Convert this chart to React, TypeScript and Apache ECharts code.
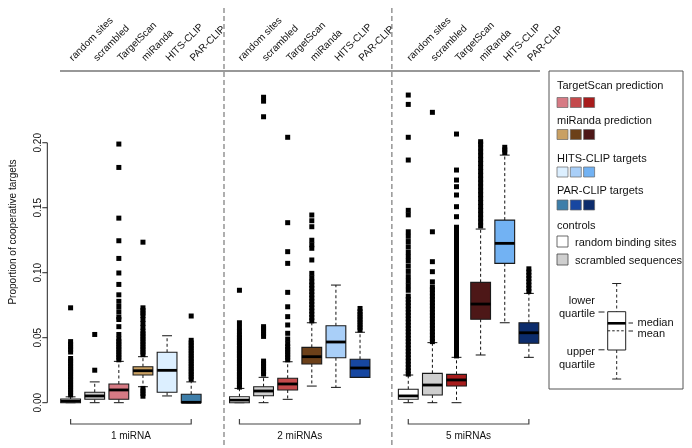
import React, { useEffect, useRef } from 'react';
import * as echarts from 'echarts';

// ---------- data ----------
const SOURCES = ['random sites', 'scrambled', 'TargetScan', 'miRanda', 'HITS-CLIP', 'PAR-CLIP'];
const GROUPS = ['1 miRNA', '2 miRNAs', '5 miRNAs'];
const Y_TICKS = [0, 0.05, 0.1, 0.15, 0.2];
const Y_TITLE = 'Proportion of cooperative targets';

// [lower whisker, Q1, median, Q3, upper whisker]
const BOX_1 = [
  [0, 0, 0.0012, 0.0028, 0.0045],
  [0, 0.0026, 0.0052, 0.008, 0.016],
  [0, 0.0026, 0.0098, 0.0144, 0.0318],
  [0.0123, 0.0213, 0.0246, 0.0277, 0.0354],
  [0.0052, 0.008, 0.0249, 0.0388, 0.0515],
  [0, 0, 0.0003, 0.0065, 0.016],
];
const BOX_2 = [
  [0, 0, 0.002, 0.0046, 0.011],
  [0, 0.0054, 0.009, 0.0123, 0.0195],
  [0.0026, 0.0098, 0.0144, 0.0188, 0.0315],
  [0.0128, 0.0298, 0.0354, 0.0426, 0.0615],
  [0.0118, 0.0346, 0.0467, 0.0592, 0.0905],
  [0.0195, 0.0195, 0.0267, 0.0334, 0.0542],
];
const BOX_5 = [
  [0, 0.0026, 0.0052, 0.0103, 0.0213],
  [0, 0.0059, 0.0136, 0.0226, 0.0462],
  [0, 0.0128, 0.0175, 0.0218, 0.0349],
  [0.0367, 0.0642, 0.0759, 0.0926, 0.1336],
  [0.0615, 0.1072, 0.1226, 0.1405, 0.1905],
  [0.0349, 0.0457, 0.0538, 0.0615, 0.0841],
];

const OUT_1 = [
  [0.006, 0.008, 0.01, 0.012, 0.014, 0.016, 0.018, 0.02, 0.022, 0.024, 0.026, 0.028, 0.03, 0.032, 0.034, 0.039, 0.041, 0.043, 0.045, 0.047, 0.073],
  [0.025, 0.0525],
  [0.033, 0.035, 0.037, 0.039, 0.041, 0.043, 0.045, 0.047, 0.049, 0.0525, 0.0585, 0.064, 0.066, 0.07, 0.074, 0.078, 0.083, 0.091, 0.0998, 0.111, 0.1246, 0.142, 0.181, 0.199],
  [0.005, 0.007, 0.009, 0.011, 0.037, 0.039, 0.041, 0.043, 0.045, 0.047, 0.049, 0.051, 0.053, 0.055, 0.058, 0.061, 0.064, 0.067, 0.069, 0.071, 0.073, 0.1235],
  [],
  [0.018, 0.02, 0.022, 0.024, 0.026, 0.028, 0.03, 0.032, 0.034, 0.036, 0.038, 0.04, 0.042, 0.044, 0.046, 0.048, 0.0667],
];
const OUT_2 = [
  [0.012, 0.014, 0.016, 0.018, 0.02, 0.022, 0.024, 0.026, 0.028, 0.03, 0.032, 0.034, 0.036, 0.038, 0.04, 0.042, 0.044, 0.046, 0.048, 0.05, 0.052, 0.055, 0.058, 0.0615, 0.0865],
  [0.022, 0.024, 0.026, 0.028, 0.03, 0.032, 0.051, 0.053, 0.055, 0.057, 0.0585, 0.22, 0.232, 0.235],
  [0.033, 0.035, 0.037, 0.039, 0.041, 0.043, 0.0455, 0.049, 0.0534, 0.0598, 0.0662, 0.0738, 0.0849, 0.1072, 0.1162, 0.1385, 0.2042],
  [0.063, 0.0655, 0.068, 0.0705, 0.073, 0.0755, 0.078, 0.0805, 0.083, 0.0855, 0.088, 0.0905, 0.093, 0.096, 0.0995, 0.1098, 0.1188, 0.1215, 0.125, 0.1354, 0.14, 0.1444],
  [],
  [0.056, 0.058, 0.06, 0.062, 0.064, 0.066, 0.068, 0.07, 0.0725],
];
const OUT_5 = [
  [0.022, 0.0245, 0.027, 0.0295, 0.032, 0.0345, 0.037, 0.0395, 0.042, 0.0445, 0.047, 0.0495, 0.052, 0.0545, 0.057, 0.0595, 0.062, 0.0645, 0.067, 0.0695, 0.072, 0.0745, 0.077, 0.0795, 0.082, 0.0865, 0.09, 0.0935, 0.097, 0.101, 0.105, 0.109, 0.1125, 0.116, 0.12, 0.124, 0.128, 0.1315, 0.1445, 0.148, 0.1867, 0.2042, 0.2295, 0.2367],
  [0.047, 0.0495, 0.052, 0.0545, 0.057, 0.0595, 0.062, 0.0645, 0.067, 0.0695, 0.072, 0.0745, 0.077, 0.0795, 0.082, 0.0845, 0.087, 0.089, 0.093, 0.1008, 0.1085, 0.1315, 0.2234],
  [0.036, 0.039, 0.042, 0.045, 0.048, 0.051, 0.054, 0.057, 0.06, 0.063, 0.066, 0.069, 0.072, 0.075, 0.078, 0.081, 0.084, 0.087, 0.09, 0.093, 0.096, 0.099, 0.102, 0.105, 0.108, 0.111, 0.114, 0.117, 0.12, 0.123, 0.126, 0.129, 0.132, 0.135, 0.1431, 0.1508, 0.1598, 0.1662, 0.1713, 0.179, 0.2067],
  [0.136, 0.139, 0.142, 0.145, 0.148, 0.151, 0.154, 0.157, 0.16, 0.163, 0.166, 0.169, 0.172, 0.175, 0.178, 0.181, 0.184, 0.187, 0.19, 0.193, 0.196, 0.199, 0.2008],
  [0.1925, 0.1945, 0.1965],
  [0.0855, 0.088, 0.0905, 0.093, 0.0955, 0.098, 0.1005, 0.103],
];

const COLORS_1 = ['#ffffff', '#cfcfcf', '#d67a84', '#c9a063', '#dcefff', '#3e7ea9'];
const COLORS_2 = ['#ffffff', '#cfcfcf', '#c44a4c', '#6c4019', '#a9cff8', '#1747a1'];
const COLORS_5 = ['#ffffff', '#cfcfcf', '#a81c1c', '#4d1717', '#72b2f3', '#0c2c6c'];

const LEGEND_SERIES = ['TargetScan prediction', 'miRanda prediction', 'HITS-CLIP targets', 'PAR-CLIP targets'];
const LEGEND_CONTROLS = ['random binding sites', 'scrambled sequences'];

// ---------- layout ----------
const FONT = 'Liberation Sans, Arial, Helvetica, sans-serif';
const STEP = SOURCES.length + 1; // one empty slot between panels
const XMIN = -0.966;
const XMAX = 19.71;
const YMIN = -0.006;
const YMAX = 0.2552;
const SEPARATORS = [6.36, 13.32];
const TOP_RULE = [-0.44, 19.46];

export default function App() {
  const ref = useRef<HTMLDivElement>(null);

  useEffect(() => {
    const chart = echarts.init(ref.current!, null, { renderer: 'svg' });
    const boxes = [BOX_1, BOX_2, BOX_5];
    const outs = [OUT_1, OUT_2, OUT_5];
    const cols = [COLORS_1, COLORS_2, COLORS_5];

    const boxData: number[][] = [];
    const boxFill: string[] = [];
    const outData: number[][] = [];
    const labelIdx: number[] = [];
    boxes.forEach((panel, p) => {
      panel.forEach((s, j) => {
        const x = p * STEP + j;
        boxData.push([x, ...s]);
        boxFill.push(cols[p][j]);
        labelIdx.push(x);
        outs[p][j].forEach((v) => outData.push([x, v]));
      });
    });

    chart.setOption({
      animation: false,
      grid: { left: 47.3, right: 146, top: 71, bottom: 37.5, containLabel: false, outerBoundsMode: 'none' },
      xAxis: {
        type: 'value',
        position: 'top',
        min: XMIN,
        max: XMAX,
        axisLine: { show: false },
        axisTick: { show: false },
        splitLine: { show: false },
        axisLabel: {
          customValues: labelIdx,
          formatter: (v: number) => SOURCES[Math.round(v) % STEP] ?? '',
          rotate: 45,
          margin: 12,
          fontSize: 10,
          color: '#111',
          fontFamily: FONT,
        },
      },
      yAxis: {
        type: 'value',
        min: YMIN,
        max: YMAX,
        axisLine: { show: false },
        splitLine: { show: false },
        axisTick: { show: false },
        axisLabel: {
          customValues: Y_TICKS,
          formatter: (v: number) => v.toFixed(2),
          rotate: 90,
          margin: 5,
          fontSize: 10,
          color: '#111',
          fontFamily: FONT,
        },
      },
      series: [
        {
          type: 'custom',
          clip: false,
          encode: { x: 0, y: [1, 2, 3, 4, 5] },
          data: boxData,
          renderItem: (params: any, api: any) => {
            const x = api.value(0);
            const p = (k: number) => api.coord([x, api.value(k)]);
            const [cx, yLow] = p(1);
            const yQ1 = p(2)[1];
            const yMed = p(3)[1];
            const yQ3 = p(4)[1];
            const yHigh = p(5)[1];
            const bw = api.size([1, 0])[0] * 0.82;
            const hw = bw / 2;
            const cap = bw / 4;
            const dash = { stroke: '#111', lineWidth: 1, lineDash: [3, 2.5] };
            const solid = { stroke: '#111', lineWidth: 1 };
            return {
              type: 'group',
              children: [
                { type: 'line', shape: { x1: cx, y1: yQ3, x2: cx, y2: yHigh }, style: dash },
                { type: 'line', shape: { x1: cx, y1: yQ1, x2: cx, y2: yLow }, style: dash },
                { type: 'line', shape: { x1: cx - cap, y1: yHigh, x2: cx + cap, y2: yHigh }, style: solid },
                { type: 'line', shape: { x1: cx - cap, y1: yLow, x2: cx + cap, y2: yLow }, style: solid },
                {
                  type: 'rect',
                  shape: { x: cx - hw, y: yQ3, width: bw, height: Math.max(yQ1 - yQ3, 0.5) },
                  style: { fill: boxFill[params.dataIndex], stroke: '#1a1a1a', lineWidth: 1.1 },
                },
                { type: 'line', shape: { x1: cx - hw, y1: yMed, x2: cx + hw, y2: yMed }, style: { stroke: '#000', lineWidth: 2.8 } },
              ],
            };
          },
          z: 2,
        },
        {
          type: 'scatter',
          symbol: 'rect',
          symbolSize: 5,
          clip: false,
          itemStyle: { color: '#000', opacity: 1 },
          data: outData,
          z: 3,
        },
      ],
    });

    const px = (x: number, y: number) => chart.convertToPixel({ gridIndex: 0 }, [x, y]) as number[];
    const g: any[] = [];
    const text = (t: string, x: number, y: number, align = 'left', size = 11, extra: any = {}) => ({
      type: 'text',
      x,
      y,
      ...extra,
      style: { text: t, fill: '#111', font: `${size}px ${FONT}`, textAlign: align, textVerticalAlign: 'middle' },
    });
    const line = (x1: number, y1: number, x2: number, y2: number, style: any) => ({
      type: 'line',
      shape: { x1, y1, x2, y2 },
      style: { stroke: '#222', lineWidth: 1, ...style },
    });

    // y axis line from 0 to 0.20, with ticks
    const a0 = px(XMIN, Y_TICKS[0]);
    const a1 = px(XMIN, Y_TICKS[Y_TICKS.length - 1]);
    g.push(line(a0[0], a0[1], a1[0], a1[1], { stroke: '#222' }));
    Y_TICKS.forEach((v) => {
      const q = px(XMIN, v);
      g.push(line(q[0] - 5, q[1], q[0], q[1], { stroke: '#222' }));
    });
    // top rule
    const t0 = px(TOP_RULE[0], YMAX);
    const t1 = px(TOP_RULE[1], YMAX);
    g.push(line(t0[0], t0[1], t1[0], t1[1], { stroke: '#333', lineWidth: 1.2 }));
    // separators
    SEPARATORS.forEach((s) => {
      const sx = px(s, 0)[0];
      g.push(line(sx, 8, sx, 448, { stroke: '#7a7a7a', lineWidth: 1.2, lineDash: [5, 3] }));
    });
    // brackets + group labels
    GROUPS.forEach((name, p) => {
      const l = px(p * STEP, 0)[0];
      const r = px(p * STEP + SOURCES.length - 1, 0)[0];
      const by = 424;
      g.push({
        type: 'polyline',
        shape: { points: [[l, by - 5], [l, by], [r, by], [r, by - 5]] },
        style: { stroke: '#444', lineWidth: 1.2, fill: 'none' },
      });
      g.push(text(name, (l + r) / 2, 435, 'center', 10));
    });
    // y title
    g.push(text(Y_TITLE, 12.5, 232, 'center', 10, { rotation: Math.PI / 2 }));

    // legend
    g.push({ type: 'rect', shape: { x: 549, y: 71, width: 134, height: 318 }, style: { fill: '#fff', stroke: '#555', lineWidth: 1 } });
    const titleY = [85, 119.5, 157.5, 189.5];
    const swY = [97.5, 129.5, 167, 200];
    LEGEND_SERIES.forEach((name, k) => {
      g.push(text(name, 557, titleY[k]));
      [COLORS_1, COLORS_2, COLORS_5].forEach((c, m) => {
        g.push({
          type: 'rect',
          shape: { x: 557 + m * 13.3, y: swY[k], width: 11, height: 10 },
          style: { fill: c[k + 2], stroke: '#666', lineWidth: 0.7 },
        });
      });
    });
    g.push(text('controls', 557, 224.5));
    LEGEND_CONTROLS.forEach((name, k) => {
      const yy = 236 + k * 18;
      g.push({ type: 'rect', shape: { x: 557, y: yy, width: 11, height: 11 }, style: { fill: COLORS_1[k], stroke: '#444', lineWidth: 0.8 } });
      g.push(text(name, 575, yy + 6));
    });
    // box explanation
    const cx = 616.7;
    const dsh = { stroke: '#222', lineWidth: 1, lineDash: [3, 2.5] };
    g.push(line(cx, 283.5, cx, 311.7, dsh));
    g.push(line(cx, 350, cx, 379, dsh));
    g.push(line(cx - 4.5, 283.5, cx + 4.5, 283.5, {}));
    g.push(line(cx - 4.5, 379, cx + 4.5, 379, {}));
    g.push({ type: 'rect', shape: { x: 607.7, y: 311.7, width: 18, height: 38.3 }, style: { fill: '#fff', stroke: '#222', lineWidth: 1 } });
    g.push(line(607.7, 323.3, 625.7, 323.3, { stroke: '#000', lineWidth: 2.6 }));
    g.push(line(607.7, 330.8, 625.7, 330.8, { stroke: '#222', lineWidth: 1, lineDash: [2.5, 2] }));
    g.push(text('lower', 595, 300, 'right'));
    g.push(text('quartile', 595, 312.5, 'right'));
    g.push(line(598.5, 312, 604.5, 312, {}));
    g.push(text('upper', 595, 350.5, 'right'));
    g.push(line(598.5, 349.8, 604.5, 349.8, {}));
    g.push(text('quartile', 595, 363.5, 'right'));
    g.push(line(628.5, 323, 633, 323, {}));
    g.push(text('median', 637.5, 321.5));
    g.push(line(628.5, 331, 633, 331, {}));
    g.push(text('mean', 637.5, 332.5));

    chart.setOption({ graphic: g });
    return () => chart.dispose();
  }, []);

  return <div ref={ref} style={{ position: 'fixed', left: 0, top: 0, width: 692, height: 448 }} />;
}
